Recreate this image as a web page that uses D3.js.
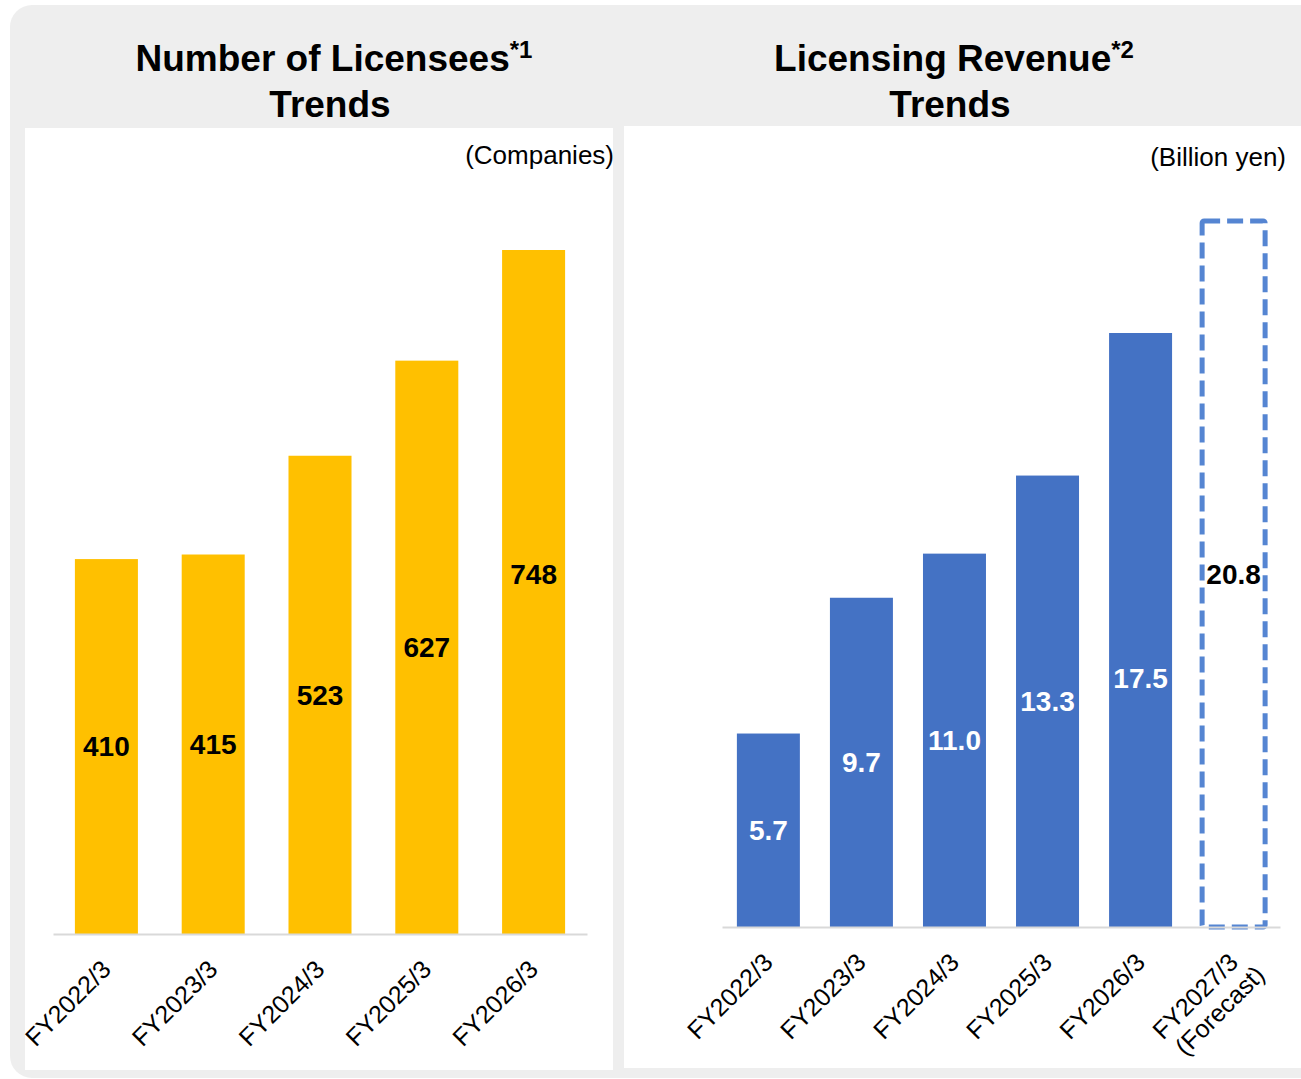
<!DOCTYPE html>
<meta charset="utf-8">
<style>
body { margin: 0; background: #fff; }
text { font-family: "Liberation Sans", Arial, sans-serif; fill: #000; }
.title { font-size: 37px; font-weight: bold; }
.unit { font-size: 26px; }
.val { font-size: 28px; font-weight: bold; }
.tick text { font-size: 25px; }
</style>
<body>
<script src="https://d3js.org/d3.v7.min.js"></script>
<script>

// licensees (companies)
var licYears = ["FY2022/3", "FY2023/3", "FY2024/3", "FY2025/3", "FY2026/3"];
var licensees = [410, 415, 523, 627, 748];

// licensing revenue (billion yen), last one is forecast
var revYears = ["FY2022/3", "FY2023/3", "FY2024/3", "FY2025/3", "FY2026/3", "FY2027/3\n(Forecast)"];
var revenue = [5.7, 9.7, 11.0, 13.3, 17.5, 20.8];
var revLabels = ["5.7", "9.7", "11.0", "13.3", "17.5", "20.8"];

var svg = d3.select("body").append("svg")
    .attr("width", 1301)
    .attr("height", 1079);

// grey backing card
svg.append("rect")
    .attr("x", 10).attr("y", 5)
    .attr("width", 1330).attr("height", 1073)
    .attr("rx", 22)
    .attr("fill", "#eeeeee");

// white panels
svg.append("rect").attr("x", 25).attr("y", 128).attr("width", 588).attr("height", 942).attr("fill", "#fff");
svg.append("rect").attr("x", 624).attr("y", 126).attr("width", 680).attr("height", 942).attr("fill", "#fff");

// titles
function title(cx, line1, sup) {
  var t = svg.append("text").attr("class", "title")
      .attr("x", cx).attr("y", 71)
      .style("text-anchor", "middle");
  t.append("tspan").text(line1);
  t.append("tspan").attr("font-size", "24px").attr("dy", -13).text(sup);
  svg.append("text").attr("class", "title")
      .attr("x", cx - 4).attr("y", 117)
      .style("text-anchor", "middle")
      .text("Trends");
}
title(334, "Number of Licensees", "*1");
title(954, "Licensing Revenue", "*2");

svg.append("text").attr("class", "unit")
    .attr("x", 614).attr("y", 164)
    .style("text-anchor", "end")
    .text("(Companies)");
svg.append("text").attr("class", "unit")
    .attr("x", 1286).attr("y", 166)
    .style("text-anchor", "end")
    .text("(Billion yen)");

// ---- left chart ----
var xL = d3.scaleBand().domain(licYears).range([53, 587])
    .paddingInner(0.41).paddingOuter(0.205);
var yL = d3.scaleLinear().domain([0, 800]).range([934, 934 - 800 * 684 / 748]);

svg.append("g").selectAll("rect")
    .data(licensees)
  .enter().append("rect")
    .attr("x", function(d, i) { return xL(licYears[i]); })
    .attr("y", function(d) { return yL(d); })
    .attr("width", xL.bandwidth())
    .attr("height", function(d) { return yL(0) - yL(d); })
    .attr("fill", "#ffc000");

// label nudges in px (the last one sits higher than the middle)
var licNudge = [0, 0, 0, 0, -18];
svg.append("g").selectAll("text")
    .data(licensees)
  .enter().append("text")
    .attr("class", "val")
    .attr("x", function(d, i) { return xL(licYears[i]) + xL.bandwidth() / 2; })
    .attr("y", function(d, i) { return (yL(d) + yL(0)) / 2 + licNudge[i]; })
    .attr("dy", "0.35em")
    .style("text-anchor", "middle")
    .text(function(d) { return d; });

// ---- right chart ----
var xR = d3.scaleBand().domain(revYears).range([722, 1280])
    .paddingInner(0.323).paddingOuter(0.16);
var yR = d3.scaleLinear().domain([0, 25]).range([927, 927 - 25 * 594 / 17.5]);

svg.append("g").selectAll("rect")
    .data(revenue.slice(0, 5))
  .enter().append("rect")
    .attr("x", function(d, i) { return xR(revYears[i]); })
    .attr("y", function(d) { return yR(d); })
    .attr("width", xR.bandwidth())
    .attr("height", function(d) { return yR(0) - yR(d); })
    .attr("fill", "#4472c4");

// forecast bar, dashed outline
svg.append("rect")
    .attr("x", xR(revYears[5]))
    .attr("y", yR(revenue[5]))
    .attr("width", xR.bandwidth())
    .attr("height", yR(0) - yR(revenue[5]))
    .attr("rx", 2)
    .attr("fill", "none")
    .attr("stroke", "#5585d2")
    .attr("stroke-width", 5)
    .attr("stroke-dasharray", "16,7");

var revNudge = [0, 0, 0, 0, 48, 0];
svg.append("g").selectAll("text")
    .data(revenue)
  .enter().append("text")
    .attr("class", "val")
    .attr("x", function(d, i) { return xR(revYears[i]) + xR.bandwidth() / 2; })
    .attr("y", function(d, i) { return (yR(d) + yR(0)) / 2 + revNudge[i]; })
    .attr("dy", "0.35em")
    .style("text-anchor", "middle")
    .style("fill", function(d, i) { return i < 5 ? "#fff" : "#000"; })
    .text(function(d, i) { return revLabels[i]; });

// ---- axes ----
function styleAxis(g) {
  g.select(".domain").attr("stroke", "#d9d9d9").attr("stroke-width", 2);
  g.selectAll(".tick line").remove();
  g.selectAll(".tick text").each(function(d) {
    var t = d3.select(this);
    var lines = d.split("\n");
    t.text(null)
      .attr("x", 0).attr("y", 0).attr("dy", null)
      .attr("fill", "#000")
      .attr("font-family", null).attr("font-size", null)
      .style("text-anchor", "end")
      .attr("transform", "translate(6,37) rotate(-45)");
    lines.forEach(function(l, k) {
      t.append("tspan").attr("x", k ? 10 : 0).attr("dy", k ? "1.1em" : 0).text(l);
    });
  });
}

svg.append("g")
    .attr("transform", "translate(0,934)")
    .call(d3.axisBottom(xL).tickSize(0).tickSizeOuter(0))
    .call(styleAxis);

svg.append("g")
    .attr("transform", "translate(0,927)")
    .call(d3.axisBottom(xR).tickSize(0).tickSizeOuter(0))
    .call(styleAxis);

</script>
</body>
